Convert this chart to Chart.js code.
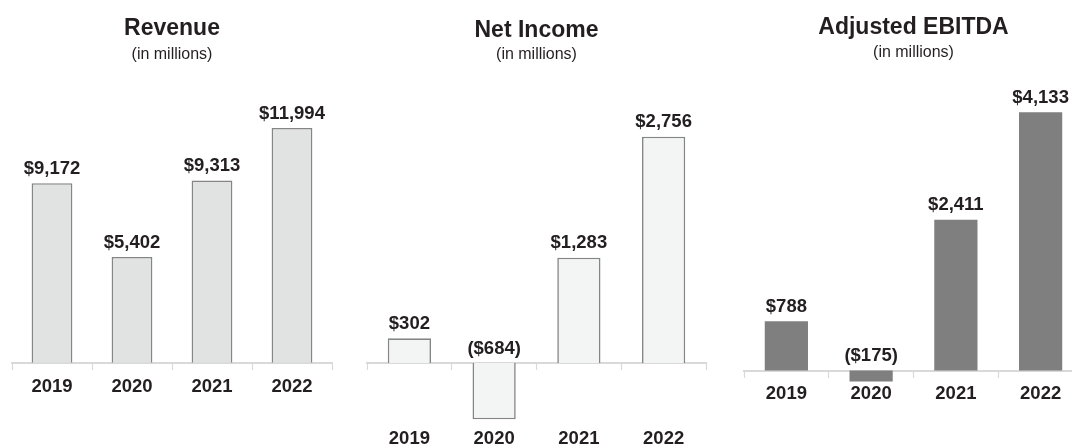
<!DOCTYPE html>
<html>
<head>
<meta charset="utf-8">
<script src="https://cdn.jsdelivr.net/npm/chart.js@4/dist/chart.umd.min.js"></script>
<style>
    html, body { margin: 0; padding: 0; background: #fff; overflow: hidden; }
    body { width: 1072px; height: 444px; position: relative; }
    .panel { position: absolute; top: 0; height: 444px; }
</style>
</head>
<body>
<div class="panel" style="left:0;width:360px"><canvas id="revenue-chart"></canvas></div>
<div class="panel" style="left:360px;width:356px"><canvas id="net-chart"></canvas></div>
<div class="panel" style="left:716px;width:380px"><canvas id="ebitda-chart"></canvas></div>
<script>
// chart data
const years = ['2019', '2020', '2021', '2022'];
const revenue = [9172, 5402, 9313, 11994];
const netIncome = [302, -684, 1283, 2756];
const adjEbitda = [788, -175, 2411, 4133];

const FONT = "'Liberation Sans', Arial, sans-serif";
const TEXT = '#231f20';
const CANVAS_H = 444;

function money(v) {
    const s = '$' + Math.abs(v).toLocaleString('en-US');
    return v < 0 ? '(' + s + ')' : s;
}

// draws the value above each bar (above the zero line for negatives)
const valueLabels = {
    id: 'valueLabels',
    afterDatasetsDraw(chart) {
        const ctx = chart.ctx;
        const zeroY = chart.scales.y.getPixelForValue(0);
        const data = chart.data.datasets[0].data;
        ctx.save();
        ctx.font = 'bold 18.5px ' + FONT;
        ctx.fillStyle = TEXT;
        ctx.textAlign = 'center';
        ctx.textBaseline = 'middle';
        chart.getDatasetMeta(0).data.forEach((bar, i) => {
            const v = data[i];
            const y = (v >= 0 ? bar.y : zeroY) - 14.5;
            ctx.fillText(money(v), bar.x, y);
        });
        ctx.restore();
    }
};

function makeChart(id, opts) {
    // chart area top = title + subtitle boxes + gap
    const top = opts.titlePad + 23 + opts.subPad + 16 + 10;
    const yMax = (opts.zeroY - top) / opts.pxPerUnit;
    const yMin = -(CANVAS_H - opts.zeroY) / opts.pxPerUnit;

    return new Chart(document.getElementById(id), {
        type: 'bar',
        data: {
            labels: years,
            datasets: [{
                data: opts.values,
                backgroundColor: opts.fill,
                borderColor: opts.border,
                borderWidth: opts.borderWidth,
                barPercentage: 0.51,
                categoryPercentage: 1
            }]
        },
        options: {
            responsive: true,
            maintainAspectRatio: false,
            animation: false,
            layout: {
                padding: { left: opts.padLeft, right: opts.padRight, top: 0, bottom: 0 }
            },
            plugins: {
                legend: { display: false },
                tooltip: { enabled: false },
                title: {
                    display: true,
                    text: opts.title,
                    color: TEXT,
                    font: { family: FONT, size: 23, weight: 'bold', lineHeight: 1 },
                    padding: { top: opts.titlePad, bottom: 0 }
                },
                subtitle: {
                    display: true,
                    text: '(in millions)',
                    color: TEXT,
                    font: { family: FONT, size: 16, weight: 'normal', lineHeight: 1 },
                    padding: { top: opts.subPad, bottom: 10 }
                }
            },
            scales: {
                // zero line with the small divider ticks
                x: {
                    position: { y: 0 },
                    offset: true,
                    grid: {
                        offset: true,
                        drawOnChartArea: false,
                        drawTicks: true,
                        tickLength: 6,
                        tickColor: '#d9d9d9',
                        tickWidth: 1.2
                    },
                    border: { display: true, color: '#d9d9d9', width: 2 },
                    ticks: { display: false }
                },
                // year labels, hung below the zero line
                x2: {
                    type: 'category',
                    position: { y: 0 },
                    offset: true,
                    grid: { display: false, drawTicks: true, tickLength: opts.labelDrop },
                    border: { display: false },
                    ticks: {
                        color: TEXT,
                        padding: 7,
                        font: { family: FONT, size: 18.5, weight: 'bold' }
                    }
                },
                y: {
                    display: false,
                    min: yMin,
                    max: yMax
                }
            }
        },
        plugins: [valueLabels]
    });
}

makeChart('revenue-chart', {
    values: revenue,
    title: 'Revenue',
    fill: '#e1e2e2',
    border: '#858585',
    borderWidth: 1.6,
    zeroY: 362.7,
    pxPerUnit: 0.01957,
    padLeft: 12,
    padRight: 28,
    titlePad: 17,
    subPad: 6.5,
    labelDrop: 6
});

makeChart('net-chart', {
    values: netIncome,
    title: 'Net Income',
    fill: '#f3f4f4',
    border: '#858585',
    borderWidth: 1.6,
    zeroY: 363.1,
    pxPerUnit: 0.08215,
    padLeft: 7,
    padRight: 10,
    titlePad: 19.3,
    subPad: 4.2,
    labelDrop: 57.5
});

makeChart('ebitda-chart', {
    values: adjEbitda,
    title: 'Adjusted EBITDA',
    fill: '#7f7f7f',
    border: '#7f7f7f',
    borderWidth: 0,
    zeroY: 370.5,
    pxPerUnit: 0.0625,
    padLeft: 28,
    padRight: 13,
    titlePad: 16,
    subPad: 5.5,
    labelDrop: 5.4
});
</script>
</body>
</html>
